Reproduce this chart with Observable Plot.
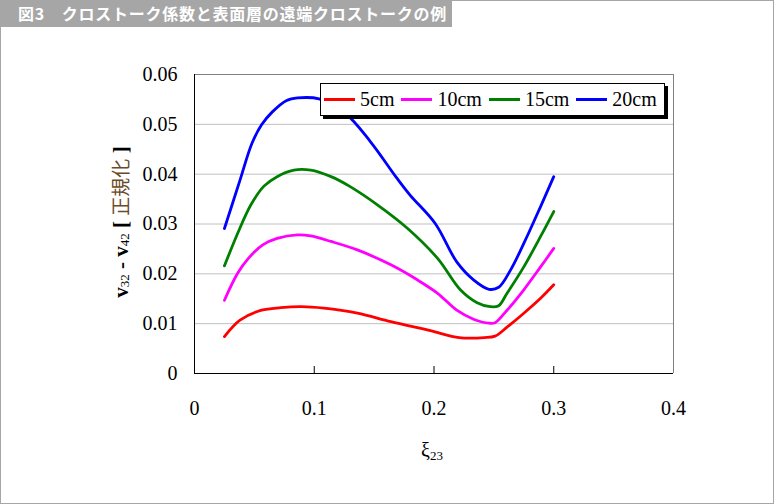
<!DOCTYPE html>
<html><head><meta charset="utf-8">
<script src="https://cdn.jsdelivr.net/npm/d3@7"></script>
<script src="https://cdn.jsdelivr.net/npm/@observablehq/plot@0.6"></script>
<style>
body{margin:0;background:#fff;}
#wrap{position:relative;width:774px;height:504px;overflow:hidden;background:#fff;font-family:"Liberation Serif",serif;color:#000;}
#chart{position:absolute;left:0;top:0;}
#chart svg text{font-family:"Liberation Serif",serif !important;}
#border{position:absolute;left:0;top:0;width:774px;height:504px;box-sizing:border-box;border:1px solid #a6a6a6;pointer-events:none;}
#title{position:absolute;left:0;top:0;width:452px;height:27px;background:#a6a6a6;color:#fff;font-family:"Noto Sans CJK JP",sans-serif;font-weight:bold;font-size:16px;line-height:27px;padding-left:18px;box-sizing:border-box;white-space:pre;letter-spacing:0.75px;}
#legend{position:absolute;left:320px;top:83px;width:345px;height:33px;box-sizing:border-box;border:1px solid #000;background:#fff;box-shadow:3px 3px 0 #000;display:flex;align-items:center;padding-left:3px;font-size:20px;}
.item{display:flex;align-items:center;margin-right:7px;}
.swatch{width:31px;height:3px;margin-right:5px;}
#ylab{position:absolute;left:120px;top:222px;transform:translate(-50%,-50%) rotate(-90deg);white-space:nowrap;font-size:21px;}
#ylab b{font-weight:bold;}
#ylab sub{font-size:13px;vertical-align:baseline;position:relative;top:1px;}
#ylab .jp{font-family:"Noto Sans CJK JP",sans-serif;font-size:19px;color:#6b4a2a;}
#xlab{position:absolute;left:432px;top:450px;transform:translate(-50%,-50%);white-space:nowrap;font-size:20px;}
#xlab sub{font-size:13px;vertical-align:baseline;position:relative;top:3px;}
</style>
</head><body>
<div id="wrap">
  <div id="chart"></div>
  <div id="title"></div>
  <div id="legend"></div>
  <div id="ylab"><b>v</b><sub>32</sub> <b>-</b> <b>v</b><sub>42</sub> <b>[</b> <span class="jp">正規化</span> <b>]</b></div>
  <div id="xlab">ξ<sub>23</sub></div>
  <div id="border"></div>
</div>
<script>
const titleText = "図3　クロストーク係数と表面層の遠端クロストークの例";
const series = ["5cm", "10cm", "15cm", "20cm"];
const colors = ["#ff0000", "#ff00ff", "#008000", "#0000ff"];
const xTicks = [0, 0.1, 0.2, 0.3, 0.4];
const yTicks = [0, 0.01, 0.02, 0.03, 0.04, 0.05, 0.06];
const yGrid = [0.01, 0.02, 0.03, 0.04, 0.05];
const innerTicks = [0.1, 0.2, 0.3];

const x5  = [0.025, 0.038, 0.056, 0.072, 0.089, 0.108, 0.136, 0.164, 0.197, 0.221, 0.242, 0.251, 0.261, 0.275, 0.289, 0.300];
const y5  = [0.0074, 0.0107, 0.0127, 0.0132, 0.0134, 0.0131, 0.0121, 0.0104, 0.0086, 0.0072, 0.0072, 0.0075, 0.0093, 0.0121, 0.0151, 0.0178];
const x10 = [0.025, 0.036, 0.045, 0.057, 0.069, 0.086, 0.097, 0.114, 0.136, 0.164, 0.186, 0.203, 0.219, 0.233, 0.246, 0.251, 0.261, 0.275, 0.289, 0.300];
const y10 = [0.0147, 0.0201, 0.0231, 0.0258, 0.0271, 0.0278, 0.0276, 0.0265, 0.0248, 0.0218, 0.0188, 0.0161, 0.0127, 0.0109, 0.0101, 0.0102, 0.0127, 0.0168, 0.0214, 0.0251];
const x15 = [0.025, 0.036, 0.047, 0.058, 0.069, 0.083, 0.097, 0.114, 0.130, 0.153, 0.178, 0.203, 0.222, 0.236, 0.247, 0.254, 0.261, 0.275, 0.289, 0.300];
const y15 = [0.0216, 0.0281, 0.0338, 0.0376, 0.0395, 0.0408, 0.0408, 0.0395, 0.0375, 0.0338, 0.0291, 0.0231, 0.0168, 0.0142, 0.0134, 0.0136, 0.0161, 0.0214, 0.0275, 0.0325];
const x20 = [0.025, 0.038, 0.048, 0.056, 0.065, 0.077, 0.086, 0.104, 0.126, 0.147, 0.169, 0.180, 0.201, 0.219, 0.233, 0.246, 0.254, 0.264, 0.275, 0.289, 0.300];
const y20 = [0.0291, 0.0388, 0.0462, 0.0499, 0.0525, 0.0548, 0.0553, 0.0551, 0.0522, 0.0465, 0.0392, 0.0358, 0.0301, 0.0224, 0.0188, 0.0169, 0.0173, 0.0208, 0.0261, 0.0335, 0.0395];

const xsAll = [x5, x10, x15, x20];
const ysAll = [y5, y10, y15, y20];
const data = series.flatMap((s, i) => xsAll[i].map((x, j) => ({s, x, y: ysAll[i][j]})));

document.getElementById("title").textContent = titleText;

const legend = document.getElementById("legend");
series.forEach((s, i) => {
  const it = document.createElement("div"); it.className = "item";
  const sw = document.createElement("div"); sw.className = "swatch"; sw.style.background = colors[i];
  const tx = document.createElement("span"); tx.textContent = s;
  it.appendChild(sw); it.appendChild(tx); legend.appendChild(it);
});

const chart = Plot.plot({
  width: 774, height: 504,
  marginLeft: 194, marginRight: 101, marginTop: 74, marginBottom: 131,
  x: {domain: [0, 0.4]},
  y: {domain: [0, 0.06]},
  color: {domain: series, range: colors},
  style: {fontFamily: "Liberation Serif", fontSize: "20px", color: "#000", background: "transparent"},
  marks: [
    Plot.ruleY(yGrid, {stroke: "#c0c0c0", strokeWidth: 1}),
    Plot.ruleY([0.06], {stroke: "#808080"}),
    Plot.ruleX([0.4], {stroke: "#808080"}),
    Plot.axisY({ticks: yTicks, tickSize: 0, tickPadding: 17, tickFormat: d => String(d), label: null}),
    Plot.axisX({ticks: xTicks, tickSize: 0, tickPadding: 27, tickFormat: d => String(d), label: null}),
    Plot.tickX(innerTicks, {stroke: "#000", insetTop: 292}),
    Plot.line(data, {x: "x", y: "y", z: "s", stroke: "s", strokeWidth: 2.8, curve: "catmull-rom"}),
    Plot.ruleX([0], {stroke: "#000"}),
    Plot.ruleY([0], {stroke: "#000"})
  ]
});
document.getElementById("chart").appendChild(chart);
</script>
</body></html>
